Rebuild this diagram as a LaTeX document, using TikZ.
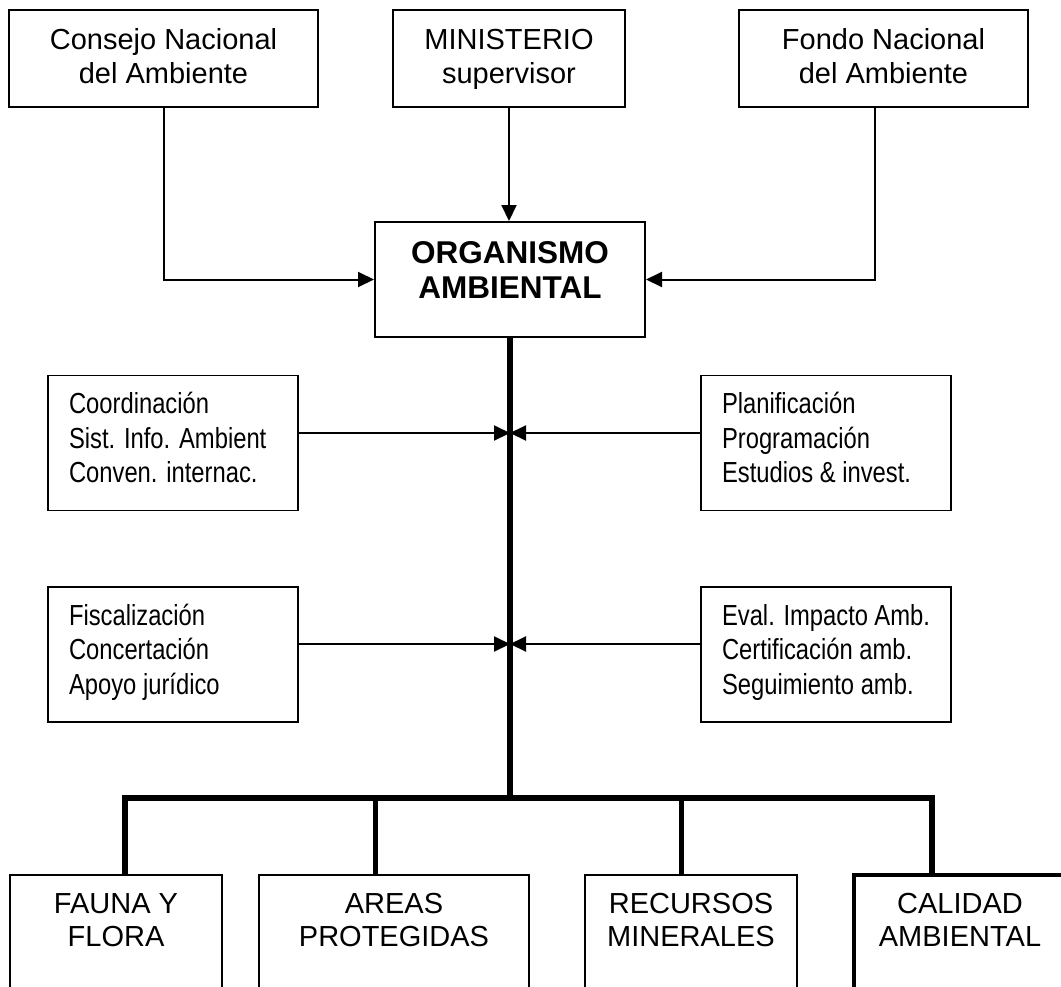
\documentclass[tikz,border=0pt]{standalone}
\usepackage{fontspec}
\setmainfont{Liberation Sans}
\newfontfamily\narrowfont[FakeStretch=0.82]{Liberation Sans}
\usepackage{tikz}
\usetikzlibrary{arrows.meta, positioning}
\tikzstyle{arrow} = [line width=2pt,-{Triangle[length=16pt,width=15pt]}]
\tikzstyle{trunk} = [line width=5.5pt, line join=miter]
\tikzstyle{branch} = [line width=5pt]
\tikzstyle{council} = [rectangle, draw=black, line width=1.6pt, inner sep=0pt, align=flush center, text height=39pt, text depth=58pt, font=\fontsize{29}{34}\selectfont]
\tikzstyle{organism} = [rectangle, draw=black, line width=2pt, inner sep=0pt, text width=270pt, align=flush center, text height=41pt, text depth=74pt, font=\fontsize{31.5}{35.5}\selectfont\bfseries]
\tikzstyle{staff} = [rectangle, draw=black, line width=1.6pt, inner xsep=21pt, inner ysep=0pt, text width=208pt, align=flush left, text height=38pt, text depth=97pt, font=\narrowfont\fontsize{29}{34.5}\selectfont]
\tikzstyle{division} = [rectangle, draw=black, line width=2pt, inner sep=0pt, text width=212pt, align=flush center, text height=38.4pt, text depth=150pt, font=\fontsize{29}{33.5}\selectfont]

\begin{document}
\begin{tikzpicture}[x=1pt, y=-1pt]
\clip (0,0) rectangle (1061,986);
%----------------------------------------------------------------------------
% Placement of chart nodes
\node (consejo) [council, text width=309pt] at (163.5,58.5)
{Consejo Nacional\\del Ambiente};

\node (ministerio) [council, text width=232pt, right of=consejo, node distance=345.5pt]
{MINISTERIO\\supervisor};

\node (fondo) [council, text width=289pt, right of=ministerio, node distance=374.5pt]
{Fondo Nacional\\del Ambiente};

\node (organismo) [organism] at (510,279.5)
{ORGANISMO\\AMBIENTAL};

\node (coordina) [staff] at (173,443)
{Coordinación\\Sist. Info. Ambient\\Conven. internac.};

\node (planifica) [staff, right of=coordina, node distance=653pt]
{Planificación\\Programación\\Estudios \& invest.};

\node (fiscaliza) [staff, below of=coordina, node distance=211.5pt]
{Fiscalización\\Concertación\\Apoyo jurídico};

\node (evalua) [staff, below of=planifica, node distance=211.5pt]
{Eval. Impacto Amb.\\Certificación amb.\\Seguimiento amb.};

\node (fauna) [division] at (116,969.2)
{FAUNA Y\\FLORA};

\node (areas) [division, text width=270pt, right of=fauna, node distance=278pt]
{AREAS\\PROTEGIDAS};

\node (recursos) [division, right of=areas, node distance=297pt]
{RECURSOS\\MINERALES};

\node (calidad) [division, line width=4pt, right of=recursos, node distance=269pt]
{CALIDAD\\AMBIENTAL};

% junctions on the main line
\coordinate (staffUp) at (510,433);
\coordinate (staffDown) at (510,644);
\coordinate (busLeft) at (125,798);
\coordinate (busRight) at (932,798);
\coordinate (dropAreas) at (375,798);
\coordinate (dropRecursos) at (681,798);

%----------------------------------------------------------------------------
% Drawing of Lines of main chart
\draw [trunk] (organismo.south) -- (organismo.south |- busLeft);
\draw [trunk] (fauna.north -| busLeft) -- (busLeft) -- (busRight) -- (busRight |- calidad.north);
\draw [branch] (dropAreas) -- (dropAreas |- areas.north);
\draw [branch] (dropRecursos) -- (dropRecursos |- recursos.north);

\draw [arrow] (consejo.south) |- (organismo.west);
\draw [arrow] (ministerio.south) -- (ministerio.south |- organismo.north);
\draw [arrow] ([xshift=-8.5pt]fondo.south) |- (organismo.east);

% staff units
\draw [arrow] (staffUp -| coordina.east) -- (staffUp);
\draw [arrow] (staffUp -| planifica.west) -- (staffUp);
\draw [arrow] (staffDown -| fiscaliza.east) -- (staffDown);
\draw [arrow] (staffDown -| evalua.west) -- (staffDown);
\end{tikzpicture}
\end{document}
